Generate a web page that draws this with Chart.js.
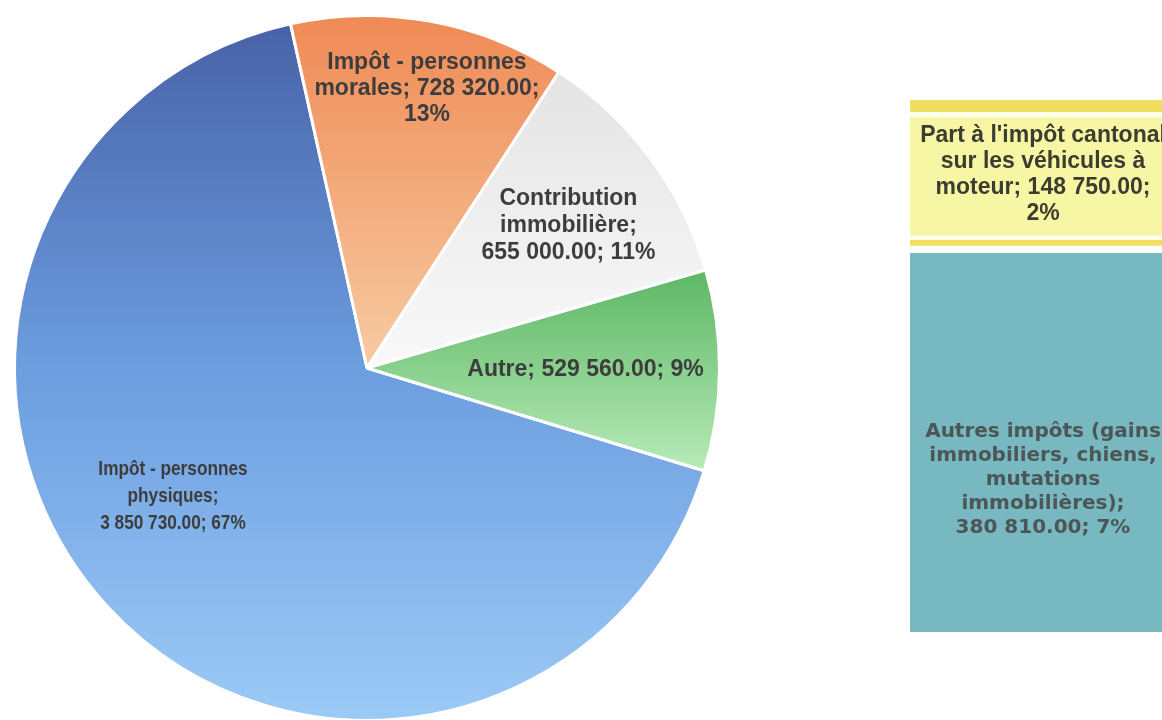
<!DOCTYPE html>
<html>
<head>
<meta charset="utf-8">
<script src="https://cdn.jsdelivr.net/npm/chart.js@4.4.1/dist/chart.umd.min.js"></script>
<style>
  html, body { margin: 0; padding: 0; background: #fff; }
  body { position: relative; width: 1162px; height: 720px; overflow: hidden; }
  #pie-wrapper { position: absolute; left: 0; top: 0; width: 740px; height: 740px; }
  #bar-wrapper { position: absolute; left: 890px; top: 0; width: 300px; height: 720px; }
</style>
</head>
<body>
<div id="pie-wrapper"><canvas id="tax-pie"></canvas></div>
<div id="bar-wrapper"><canvas id="other-bar"></canvas></div>
<script>
// Data
const pieLabels = [
  "Impôt - personnes physiques",
  "Impôt - personnes morales",
  "Contribution immobilière",
  "Autre",
];
const pieValues = [3850730, 728320, 655000, 529560];
const piePercents = [67, 13, 11, 9];

const barLabels = [
  "Part à l'impôt cantonal sur les véhicules à moteur",
  "Autres impôts (gains immobiliers, chiens, mutations immobilières)",
];
const barValues = [148750, 380810];
const barPercents = [2, 7];

// Styles
const pieColors = [
  ["#4862a8", "#6c9ee0", "#9ccaf6"],
  ["#ef8a55", "#f7cba2"],
  ["#e4e4e4", "#f9f9f9"],
  ["#5cb765", "#b8ebb8"],
];
const pieLabelStyle = [
  { font: "bold 21px 'Liberation Sans', Arial, sans-serif", scaleX: 0.82, maxWidth: 155, radius: 0.66, angle: 9.3, lineHeight: 27 },
  { font: "bold 23px 'Liberation Sans', Arial, sans-serif", maxWidth: 240, radius: 0.81, angle: 1.9, lineHeight: 26 },
  { font: "bold 23px 'Liberation Sans', Arial, sans-serif", maxWidth: 190, radius: 0.70, angle: 1.3, lineHeight: 27 },
  { font: "bold 23px 'Liberation Sans', Arial, sans-serif", maxWidth: 400, radius: 0.62, angle: 0.1, lineHeight: 26 },
];
const barLabelStyle = [
  { font: "bold 23px 'Liberation Sans', Arial, sans-serif", maxWidth: 250, lineHeight: 26, color: "#3c3c30", offsetY: 0 },
  { font: "bold 20px 'DejaVu Sans', Verdana, sans-serif", maxWidth: 245, lineHeight: 24, color: "#4c5656", offsetY: 39 },
];

//Helper Functions
const toFrenchNumber = (number) =>
  number.toFixed(2).replace(/\B(?=(\d{3})+(?!\d))/g, "\u00a0");

const labelText = (name, value, percent) =>
  `${name}; ${toFrenchNumber(value)}; ${percent}%`;

const wrapText = (ctx, text, maxWidth, scaleX) => {
  const words = text.split(" ");
  const lines = [];
  let line = "";
  words.forEach((word) => {
    const test = line ? `${line} ${word}` : word;
    if (line && ctx.measureText(test).width * scaleX > maxWidth) {
      lines.push(line);
      line = word;
    } else {
      line = test;
    }
  });
  if (line) lines.push(line);
  return lines;
};

const drawTextBlock = (ctx, text, x, y, style) => {
  const scaleX = style.scaleX || 1;
  ctx.save();
  ctx.font = style.font;
  ctx.fillStyle = style.color || "#3d3d3d";
  ctx.textAlign = "center";
  ctx.textBaseline = "middle";
  const lines = wrapText(ctx, text, style.maxWidth, scaleX);
  const top = y - ((lines.length - 1) * style.lineHeight) / 2;
  ctx.translate(x, 0);
  ctx.scale(scaleX, 1);
  lines.forEach((line, i) => ctx.fillText(line, 0, top + i * style.lineHeight));
  ctx.restore();
};

// vertical extent of a slice, used for its gradient
const arcExtent = (arc) => {
  const { x, y, startAngle, endAngle, outerRadius } = arc;
  let top = y;
  let bottom = y;
  [startAngle, endAngle].forEach((a) => {
    top = Math.min(top, y + Math.sin(a) * outerRadius);
    bottom = Math.max(bottom, y + Math.sin(a) * outerRadius);
  });
  const contains = (target) => {
    for (let k = -2; k <= 2; k++) {
      const t = target + k * 2 * Math.PI;
      if (t >= startAngle && t <= endAngle) return true;
    }
    return false;
  };
  if (contains(-Math.PI / 2)) top = y - outerRadius;
  if (contains(Math.PI / 2)) bottom = y + outerRadius;
  return { top, bottom };
};

const pieGradientPlugin = {
  id: "pieGradient",
  beforeDatasetsDraw(chart) {
    const ctx = chart.ctx;
    chart.getDatasetMeta(0).data.forEach((arc, i) => {
      const { top, bottom } = arcExtent(arc);
      const gradient = ctx.createLinearGradient(0, top, 0, bottom);
      const stops = pieColors[i];
      stops.forEach((color, s) => gradient.addColorStop(s / (stops.length - 1), color));
      arc.options.backgroundColor = gradient;
    });
  },
};

const pieLabelPlugin = {
  id: "pieLabels",
  afterDatasetsDraw(chart) {
    const ctx = chart.ctx;
    chart.getDatasetMeta(0).data.forEach((arc, i) => {
      const style = pieLabelStyle[i];
      const mid = (arc.startAngle + arc.endAngle) / 2 + (style.angle * Math.PI) / 180;
      const r = arc.outerRadius * style.radius;
      const x = arc.x + Math.cos(mid) * r;
      const y = arc.y + Math.sin(mid) * r;
      drawTextBlock(ctx, labelText(pieLabels[i], pieValues[i], piePercents[i]), x, y, style);
    });
  },
};

const barFillPlugin = {
  id: "barFill",
  beforeDatasetsDraw(chart) {
    const ctx = chart.ctx;
    // dataset 1 is the yellow top segment
    const bar = chart.getDatasetMeta(1).data[0];
    const top = bar.y;
    const bottom = bar.base - 4;
    const g = ctx.createLinearGradient(0, top, 0, bottom);
    const yellow = "#f0df5e";
    const pale = "#f7f6a4";
    g.addColorStop(0, yellow);
    g.addColorStop(0.08, yellow);
    g.addColorStop(0.085, "#fdfde8");
    g.addColorStop(0.115, "#fdfde8");
    g.addColorStop(0.125, pale);
    g.addColorStop(0.925, pale);
    g.addColorStop(0.935, "#fdfde8");
    g.addColorStop(0.96, "#fdfde8");
    g.addColorStop(0.965, yellow);
    g.addColorStop(1, yellow);
    bar.options.backgroundColor = g;
  },
  afterDatasetsDraw(chart) {
    const ctx = chart.ctx;
    barLabels.forEach((name, i) => {
      // datasets are stacked in reverse order
      const bar = chart.getDatasetMeta(barLabels.length - 1 - i).data[0];
      const style = barLabelStyle[i];
      const x = bar.x;
      const y = (bar.y + bar.base) / 2 + style.offsetY;
      drawTextBlock(ctx, labelText(name, barValues[i], barPercents[i]), x, y, style);
    });
  },
};

//Charts
const taxPieChart = () => {
  const canvas = document.getElementById("tax-pie");
  const data = {
    labels: pieLabels,
    datasets: [
      {
        data: pieValues,
        backgroundColor: pieColors.map((c) => c[0]),
        borderColor: "#ffffff",
        borderWidth: 3,
        hoverOffset: 0,
        offset: 0,
      },
    ],
  };
  const chartSettings = {
    responsive: true,
    maintainAspectRatio: false,
    animation: false,
    rotation: 106.95,
    layout: { padding: { left: 13, top: 14, right: 19, bottom: 18 } },
    plugins: {
      legend: { display: false },
      tooltip: { enabled: false },
    },
  };
  new Chart(canvas, {
    type: "pie",
    data: data,
    options: chartSettings,
    plugins: [pieGradientPlugin, pieLabelPlugin],
  });
};

const otherTaxesBarChart = () => {
  const canvas = document.getElementById("other-bar");
  const total = barValues.reduce((a, b) => a + b, 0);
  const segmentColors = ["#f0df5e", "#78b8c0"];
  const borders = [
    { top: 0, right: 0, bottom: 4, left: 0 },
    { top: 4, right: 0, bottom: 0, left: 0 },
  ];
  const datasets = barLabels
    .map((label, i) => ({
      label: label,
      data: [barValues[i]],
      backgroundColor: segmentColors[i],
      borderColor: "#ffffff",
      borderWidth: borders[i],
      borderSkipped: false,
      categoryPercentage: 1,
      barPercentage: 1,
    }))
    .reverse();
  new Chart(canvas, {
    type: "bar",
    data: { labels: [""], datasets: datasets },
    options: {
      responsive: true,
      maintainAspectRatio: false,
      animation: false,
      layout: { padding: { left: 20, right: 14, top: 100, bottom: 88 } },
      scales: {
        x: { stacked: true, display: false },
        y: { stacked: true, display: false, min: 0, max: total },
      },
      plugins: {
        legend: { display: false },
        tooltip: { enabled: false },
      },
    },
    plugins: [barFillPlugin],
  });
};

taxPieChart();
otherTaxesBarChart();
</script>
</body>
</html>
